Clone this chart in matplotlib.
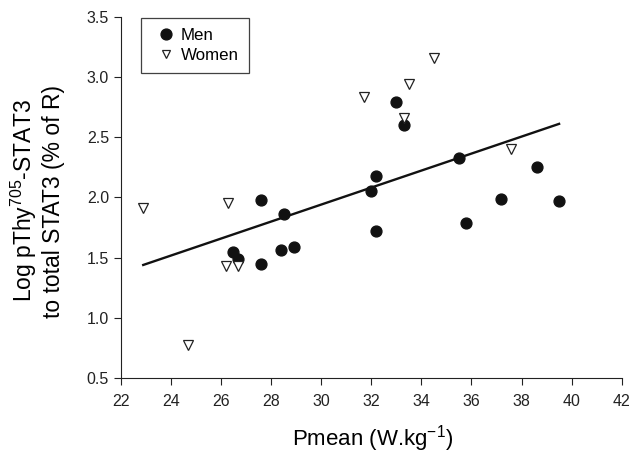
import numpy as np
import matplotlib
matplotlib.use("Agg")
import matplotlib.pyplot as plt

plt.rcParams['font.family'] = ['Liberation Sans', 'DejaVu Sans']
plt.rcParams['mathtext.fontset'] = 'custom'
plt.rcParams['mathtext.rm'] = 'Liberation Sans'

# values
men_x = [27.6, 26.5, 26.7, 27.6, 28.5, 28.4, 28.9, 32.0, 32.2, 32.2,
         33.0, 33.3, 35.5, 35.8, 37.2, 38.6, 39.5]
men_y = [1.98, 1.55, 1.49, 1.45, 1.86, 1.56, 1.59, 2.05, 2.18, 1.72,
         2.79, 2.60, 2.33, 1.79, 1.99, 2.25, 1.97]
women_x = [22.9, 24.7, 26.2, 26.3, 26.7, 31.7, 33.3, 33.5, 34.5, 37.6]
women_y = [1.91, 0.78, 1.43, 1.95, 1.43, 2.83, 2.66, 2.94, 3.16, 2.40]
fit_x = [22.9, 39.5]
fit_y = [1.44, 2.61]

x_ticks = np.arange(22, 43, 2)
y_ticks = [0.5, 1.0, 1.5, 2.0, 2.5, 3.0, 3.5]


def main():
    fig = plt.figure(figsize=(6.44, 4.54), dpi=100)
    ax = fig.add_axes([0.1874, 0.1667, 0.778, 0.7969])

    ax.plot(fit_x, fit_y, color='#111111', lw=1.7, zorder=1)
    ax.plot(men_x, men_y, 'o', color='#111111', ms=7.8, mec='#111111',
            label='Men', zorder=2)
    ax.plot(women_x, women_y, 'v', mfc='white', mec='#222222', mew=0.9,
            ms=7.5, label='Women', zorder=3)

    ax.set_xlim(22, 42)
    ax.set_ylim(0.5, 3.5)
    ax.set_xticks(x_ticks)
    ax.set_yticks(y_ticks)
    ax.set_yticklabels([f"{v:.1f}" for v in y_ticks])
    for s in ['top', 'right']:
        ax.spines[s].set_visible(False)
    for s in ['left', 'bottom']:
        ax.spines[s].set_linewidth(0.8)
        ax.spines[s].set_color('#222222')
    ax.tick_params(direction='out', length=5, width=0.8, labelsize=11.5,
                   colors='#222222')
    ax.tick_params(axis='x', pad=6)

    ax.set_xlabel(r'Pmean (W.kg$^{\mathregular{-1}}$)', fontsize=16)
    ax.xaxis.set_label_coords(0.503, -0.125)
    ax.set_ylabel('Log pThy$^{\\mathregular{705}}$-STAT3\n'
                  'to total STAT3 (% of R)', fontsize=16.5, linespacing=1.15)
    ax.yaxis.set_label_coords(-0.112, 0.49)

    leg = ax.legend(loc='upper left', bbox_to_anchor=(0.04, 0.997),
                    borderaxespad=0, fontsize=12.2, frameon=True,
                    fancybox=False, edgecolor='#111111', handletextpad=0.0,
                    borderpad=0.62, labelspacing=0.28, handlelength=1.75)
    leg.get_frame().set_linewidth(0.9)
    leg.legend_handles[1].set_markersize(6)

    fig.savefig('out.png', dpi=100)


if __name__ == "__main__":
    main()
